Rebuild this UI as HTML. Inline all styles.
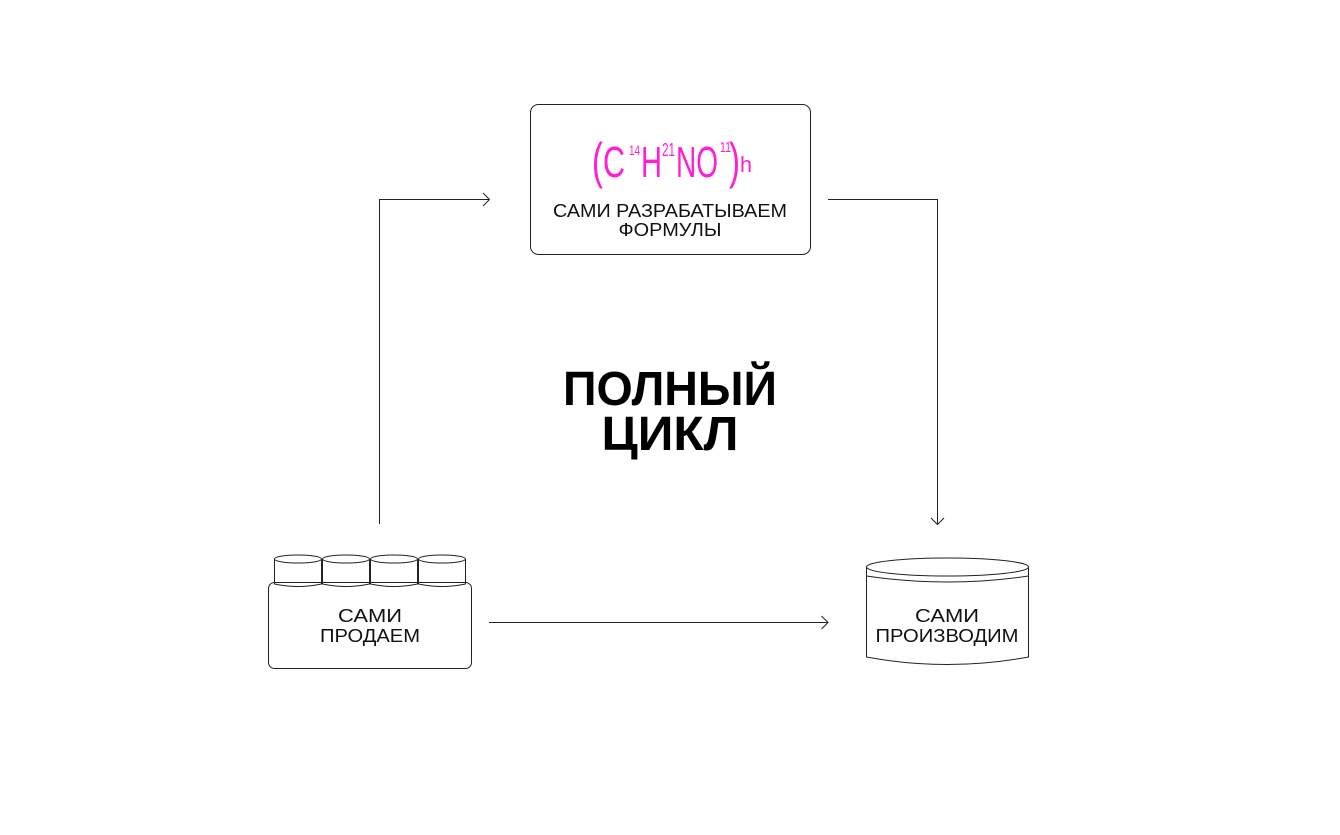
<!DOCTYPE html>
<html><head><meta charset="utf-8"><style>
html,body{margin:0;padding:0;background:#fff;}
svg{display:block;}
text{font-family:"Liberation Sans",sans-serif;}
</style></head><body>
<svg width="1340" height="835" viewBox="0 0 1340 835" xmlns="http://www.w3.org/2000/svg">
<g fill="none" stroke="#222" stroke-width="1">
  <rect x="530.5" y="104.5" width="280" height="150" rx="8"/>
  <polyline points="379.5,524 379.5,199.5 489,199.5"/>
  <polyline points="483,193 489.5,199.5 483,206"/>
  <polyline points="828,199.5 937.5,199.5 937.5,524"/>
  <polyline points="931,518 937.5,524.5 944,518"/>
  <line x1="489" y1="622.5" x2="828" y2="622.5"/>
  <polyline points="821.5,616 828,622.5 821.5,629"/>
  <rect x="268.5" y="582.5" width="203" height="86" rx="6"/>
  <g>
    <path d="M274.5,559 V584 Q298,589 321.5,584 V559"/>
    <ellipse cx="298" cy="559" rx="23.5" ry="4"/>
    <path d="M322.5,559 V584 Q346,589 369.5,584 V559"/>
    <ellipse cx="346" cy="559" rx="23.5" ry="4"/>
    <path d="M370.5,559 V584 Q394,589 417.5,584 V559"/>
    <ellipse cx="394" cy="559" rx="23.5" ry="4"/>
    <path d="M418.5,559 V584 Q442,589 465.5,584 V559"/>
    <ellipse cx="442" cy="559" rx="23.5" ry="4"/>
  </g>
  <ellipse cx="947.5" cy="567" rx="81" ry="9"/>
  <path d="M866.5,567 V576 Q947,588 1028.5,576 V567"/>
  <path d="M866.5,576 V657 Q947,672 1028.5,657 V576"/>
</g>
<g fill="#ff1fd0">
  <text x="592" y="178" font-size="50" textLength="11" lengthAdjust="spacingAndGlyphs">(</text>
  <text x="603" y="177" font-size="44" textLength="22" lengthAdjust="spacingAndGlyphs">C</text>
  <text x="629" y="155" font-size="14" textLength="11" lengthAdjust="spacingAndGlyphs">14</text>
  <text x="641" y="177" font-size="44" textLength="21" lengthAdjust="spacingAndGlyphs">H</text>
  <text x="662" y="156" font-size="18" textLength="13" lengthAdjust="spacingAndGlyphs">21</text>
  <text x="676" y="177" font-size="44" textLength="42" lengthAdjust="spacingAndGlyphs">NO</text>
  <text x="720" y="152" font-size="15" textLength="11" lengthAdjust="spacingAndGlyphs">11</text>
  <text x="729" y="178" font-size="50" textLength="11" lengthAdjust="spacingAndGlyphs">)</text>
  <text x="740" y="172" font-size="22" textLength="12" lengthAdjust="spacingAndGlyphs">h</text>
</g>
<g fill="#111" font-size="18" text-anchor="middle">
  <text x="670" y="217" textLength="234" lengthAdjust="spacingAndGlyphs">САМИ РАЗРАБАТЫВАЕМ</text>
  <text x="670" y="236" textLength="103" lengthAdjust="spacingAndGlyphs">ФОРМУЛЫ</text>
  <text x="370" y="622" textLength="64" lengthAdjust="spacingAndGlyphs">САМИ</text>
  <text x="370" y="642" textLength="100" lengthAdjust="spacingAndGlyphs">ПРОДАЕМ</text>
  <text x="947" y="622" textLength="64" lengthAdjust="spacingAndGlyphs">САМИ</text>
  <text x="947" y="642" textLength="143" lengthAdjust="spacingAndGlyphs">ПРОИЗВОДИМ</text>
</g>
<g fill="#000" font-size="48" font-weight="bold" text-anchor="middle">
  <text x="670" y="405" textLength="214" lengthAdjust="spacingAndGlyphs">ПОЛНЫЙ</text>
  <text x="670" y="450" textLength="137" lengthAdjust="spacingAndGlyphs">ЦИКЛ</text>
</g>
</svg>
</body></html>
